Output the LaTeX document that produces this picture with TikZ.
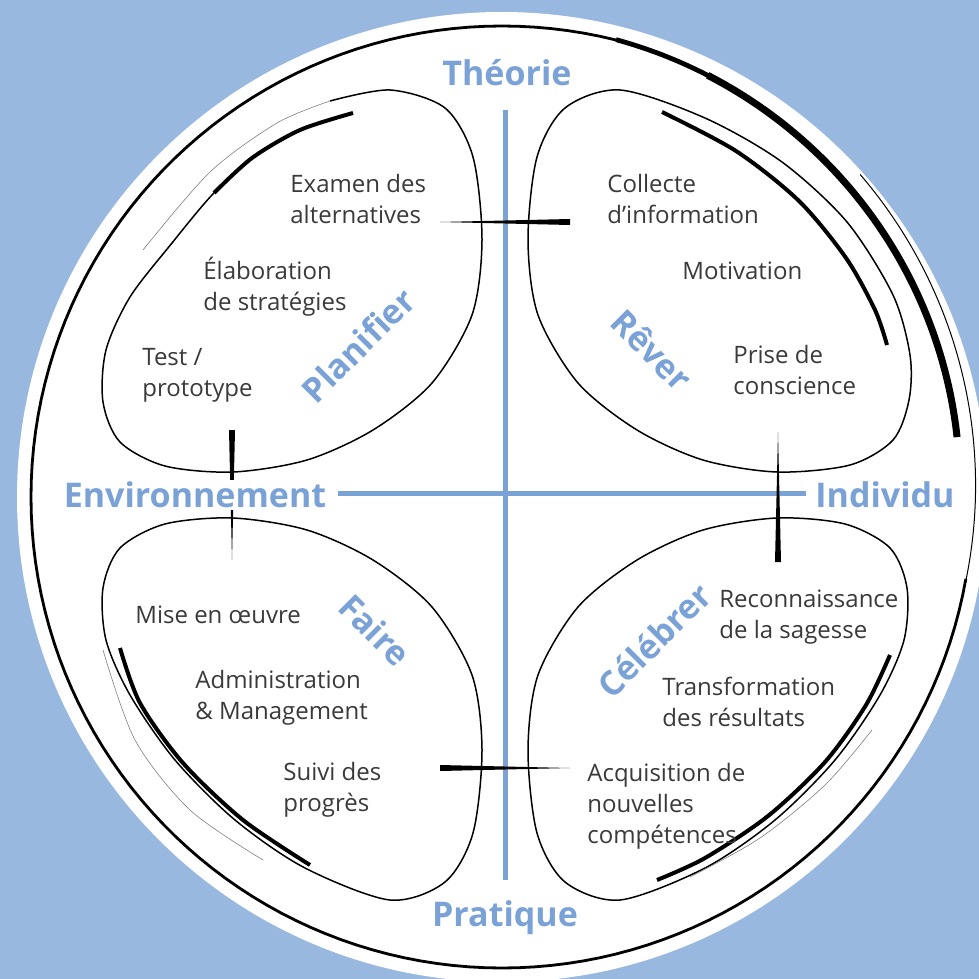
\documentclass[tikz,border=0pt]{standalone}
\usepackage{fontspec}
\setmainfont{Open Sans}
\usetikzlibrary{calc}
\definecolor{bgblue}{RGB}{153,184,224}
\definecolor{accblue}{RGB}{122,162,214}
\definecolor{txtgray}{RGB}{58,58,58}
\tikzset{
  leaf/.style={draw=black, line width=0.75pt},
  accent/.style={draw=black, line width=2pt},
  ghost/.style={draw=black!50, line width=0.3pt},
  rim/.style={draw=black, line width=1.4pt},
  axisline/.style={draw=accblue, line width=2.5pt},
  pole/.style={font=\fontsize{17}{20}\selectfont\bfseries, text=accblue, inner sep=1pt},
  phase/.style={font=\fontsize{17}{20}\selectfont\bfseries, text=accblue, inner sep=1pt},
  item/.style={font=\fontsize{12}{15.5}\selectfont, text=txtgray, align=left, anchor=west, inner sep=0pt},
  wedge/.style={fill=black}
}
\begin{document}
\begin{tikzpicture}[x=0.5pt,y=-0.5pt]
\useasboundingbox (0,0) rectangle (979,979);
\fill[bgblue] (0,0) rectangle (979,979);
% white disk
\fill[white] (502,497) circle (485);
% rim
\draw[rim] plot[domain=72:350, samples=140, variable=\t] ({502+471*cos(\t)},{497-471*sin(\t)});
\draw[draw=black, line width=0.5pt] plot[domain=-12:42, samples=60, variable=\t] ({502+(471+11*(\t+12)/54)*cos(\t)},{497-(471+11*(\t+12)/54)*sin(\t)});
\draw[draw=black, line width=2.4pt] plot[domain=62:76, samples=20, variable=\t] ({502+(459+12*(\t-7.5)/66.5)*cos(\t)},{497-(459+12*(\t-7.5)/66.5)*sin(\t)});
\draw[draw=black, line width=3.5pt] plot[domain=7.5:64, samples=80, variable=\t] ({502+(459+12*(\t-7.5)/66.5)*cos(\t)},{497-(459+12*(\t-7.5)/66.5)*sin(\t)});

% axes
\coordinate (vt) at (505,110);
\coordinate (vb) at (505,880);
\coordinate (hl) at (338,493);
\coordinate (hr) at (806,493);
\draw[axisline] (vt) -- (vb);
\draw[axisline] (hl) -- (hr);

% connectors (tapered)
\coordinate (cT1) at (440,222); \coordinate (cT2) at (570,222);
\coordinate (cL1) at (232,430); \coordinate (cL2) at (232,560);
\coordinate (cR1) at (778,432); \coordinate (cR2) at (778,562);
\coordinate (cB1) at (440,768); \coordinate (cB2) at (570,768);
\fill[wedge] (cT1) -- ($(cT2)+(0,-3)$) -- ($(cT2)+(0,3)$) -- cycle;
\fill[wedge] (cL2) -- ($(cL1)+(-3,0)$) -- ($(cL1)+(3,0)$) -- cycle;
\fill[wedge] (cR1) -- ($(cR2)+(-3,0)$) -- ($(cR2)+(3,0)$) -- cycle;
\fill[wedge] (cB2) -- ($(cB1)+(0,-3)$) -- ($(cB1)+(0,3)$) -- cycle;

% pole labels
\node[pole] (theorie) at (507,73) {Théorie};
\node[pole] (pratique) at (505,918) {Pratique};
\node[pole, fill=white] (env) at (195,495) {Environnement};
\node[pole] (indiv) at (885,495) {Individu};

% leaves
% Planifier: open sketch stroke, starting thick inside and ending as a faint line outside
\draw[leaf] plot[smooth] coordinates {(353,113) (300,130) (252,158) (212,195) (172,243) (130,297) (106,350) (103,402) (120,442) (165,466) (233,472) (307,460) (373,430) (432,383) (472,315) (482,240) (473,157) (445,108) (390,90) (330,101)};
\draw[ghost] plot[smooth] coordinates {(330,101) (277,123) (210,172) (143,250)};
\draw[accent] plot[smooth] coordinates {(353,113) (300,130) (252,158) (214,193)};
% Rever
\draw[leaf] plot[smooth cycle] coordinates {(620,90) (565,108) (537,157) (528,240) (538,315) (578,383) (637,430) (703,460) (777,472) (850,465) (893,440) (909,400) (910,355) (893,295) (847,222) (782,162) (705,118)};
\draw[accent] plot[smooth] coordinates {(662,112) (736,151) (799,201) (846,258) (875,310) (887,345)};
% Faire
\draw[leaf] plot[smooth cycle] coordinates {(390,900) (445,882) (473,833) (482,750) (472,675) (432,607) (373,560) (307,530) (233,518) (165,524) (120,548) (103,588) (106,640) (130,695) (175,760) (235,820) (305,868)};
\draw[accent] plot[smooth] coordinates {(120,648) (140,703) (183,763) (243,820) (310,865)};
\draw[ghost] plot[smooth] coordinates {(103,650) (135,740) (190,810) (263,860)};
% Celebrer
\draw[leaf] plot[smooth cycle] coordinates {(620,900) (565,882) (537,833) (528,750) (538,675) (578,607) (637,560) (703,530) (777,518) (845,524) (890,548) (907,588) (904,640) (880,695) (835,760) (775,820) (705,868)};
\draw[accent] plot[smooth] coordinates {(657,880) (705,858) (768,816) (825,762) (866,705) (890,655)};
\draw[ghost] plot[smooth] coordinates {(690,877) (760,838) (825,785) (872,730)};

% phase labels
\node[phase, rotate=45] (planifier) at (358,345) {Planifier};
\node[phase, rotate=-45] (rever) at (652,350) {Rêver};
\node[phase, rotate=-45] (faire) at (375,630) {Faire};
\node[phase, rotate=45] (celebrer) at (654,640) {Célébrer};

% items
\node[item] (examen) at (290,199) {Examen des\\alternatives};
\node[item] (elab) at (203,287) {Élaboration\\de stratégies};
\node[item] (test) at (142,375) {Test /\\prototype};
\node[item] (collecte) at (607,199) {Collecte\\d’information};
\node[item] (motiv) at (682,271) {Motivation};
\node[item] (prise) at (733,370) {Prise de\\conscience};
\node[item] (mise) at (135,615) {Mise en œuvre};
\node[item] (admin) at (195,698) {Administration\\\& Management};
\node[item] (suivi) at (283,790) {Suivi des\\progrès};
\node[item] (reco) at (719,617) {Reconnaissance\\de la sagesse};
\node[item] (transfo) at (662,702) {Transformation\\des résultats};
\node[item] (acqui) at (587,806) {Acquisition de\\nouvelles\\compétences};
\end{tikzpicture}
\end{document}
